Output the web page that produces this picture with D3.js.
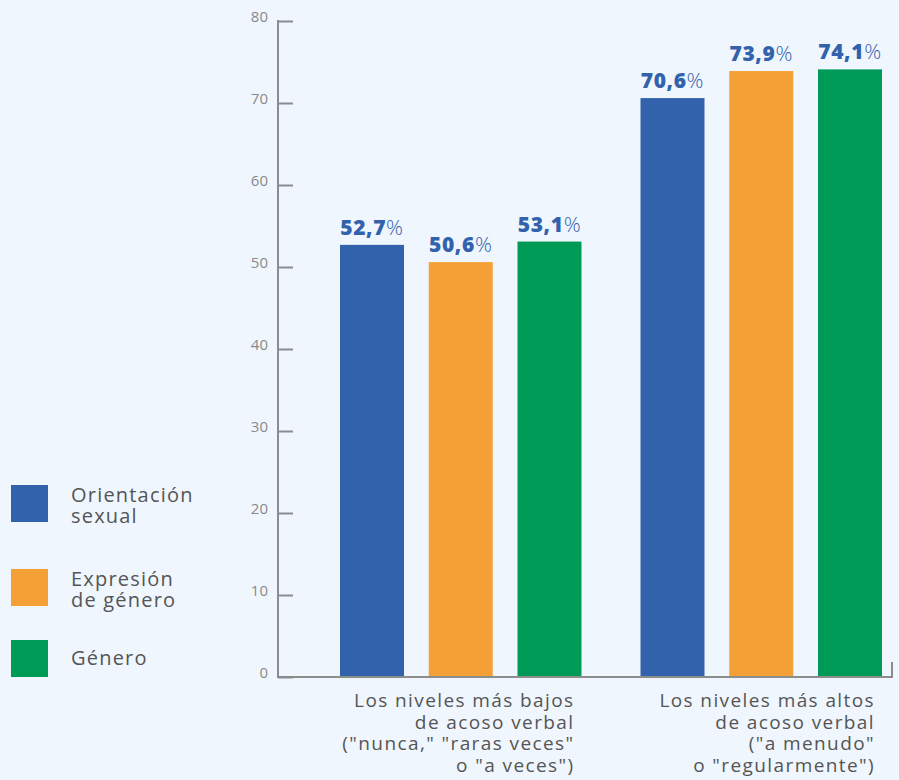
<!DOCTYPE html>
<html>
<head>
<meta charset="utf-8">
<script src="https://cdn.jsdelivr.net/npm/d3@7"></script>
<style>
  html, body { margin: 0; padding: 0; background: #eff6fd; }
  svg { display: block; font-family: "Open Sans", "DejaVu Sans", sans-serif; }
</style>
</head>
<body>
<svg id="chart" width="899" height="780"></svg>
<script>
const groups = ["bajos", "altos"];
const groupLabels = [
  ["Los niveles más bajos", "de acoso verbal", "(\"nunca,\" \"raras veces\"", "o \"a veces\")"],
  ["Los niveles más altos", "de acoso verbal", "(\"a menudo\"", "o \"regularmente\")"]
];
const series = ["Orientación sexual", "Expresión de género", "Género"];
const legendLines = [["Orientación", "sexual"], ["Expresión", "de género"], ["Género"]];
const colors = ["#3362ad", "#f5a036", "#009a57"];
const valuesOrientacion = [52.7, 70.6];
const valuesExpresion = [50.6, 73.9];
const valuesGenero = [53.1, 74.1];
const yTicks = [0, 10, 20, 30, 40, 50, 60, 70, 80];
const valueLabels = [["52,7", "70,6"], ["50,6", "73,9"], ["53,1", "74,1"]];

const allValues = [valuesOrientacion, valuesExpresion, valuesGenero];
const svg = d3.select("#chart");

const y = d3.scaleLinear().domain([0, 80]).range([677, 21]);
const x0 = d3.scaleBand().domain(groups).range([312.5, 913.5]).padding(0);
const x1 = d3.scaleBand().domain(series).range([27.5, 269]).paddingInner(0.279).paddingOuter(0);

// Y axis
const axisColor = "#8c8c8c";
const yAxis = d3.axisRight(y).tickValues(yTicks).tickSize(15).tickFormat("");
const gy = svg.append("g").attr("transform", "translate(278,0)").call(yAxis);
gy.select(".domain").remove();
gy.selectAll(".tick line").attr("stroke", axisColor).attr("stroke-width", 2);
svg.append("line").attr("x1", 278).attr("x2", 278).attr("y1", y(80) - 1).attr("y2", y(0) + 1)
  .attr("stroke", axisColor).attr("stroke-width", 2);
svg.selectAll("text.ytick").data(yTicks).join("text")
  .attr("class", "ytick")
  .attr("x", 268).attr("y", d => y(d) + 1)
  .attr("text-anchor", "end")
  .attr("font-size", 15)
  .attr("fill", "#8a8a8a")
  .text(d => d);

// Bars
const barData = [];
groups.forEach((g, gi) => {
  series.forEach((s, si) => {
    barData.push({ g, s, si, v: allValues[si][gi], label: valueLabels[si][gi] });
  });
});
svg.append("g").selectAll("rect").data(barData).join("rect")
  .attr("x", d => x0(d.g) + x1(d.s))
  .attr("width", x1.bandwidth())
  .attr("y", d => y(d.v))
  .attr("height", d => y(0) - y(d.v))
  .attr("fill", d => colors[d.si]);

// Baseline
svg.append("path")
  .attr("d", `M278,${y(0)}H892V${y(0) - 15}`)
  .attr("fill", "none").attr("stroke", axisColor).attr("stroke-width", 2);

// Value labels
const vl = svg.append("g").selectAll("text").data(barData).join("text")
  .attr("x", d => x0(d.g) + x1(d.s) + x1.bandwidth() / 2)
  .attr("y", d => y(d.v) - 10)
  .attr("text-anchor", "middle")
  .attr("font-size", 21)
  .attr("letter-spacing", 0.6)
  .attr("fill", "#3362ad");
vl.append("tspan").attr("font-weight", 800).text(d => d.label);
vl.append("tspan").attr("font-weight", 300).text("%");

// Category labels
groupLabels.forEach((lines, gi) => {
  lines.forEach((ln, li) => {
    svg.append("text")
      .attr("text-anchor", "end")
      .attr("font-size", 19)
      .attr("letter-spacing", 1.4)
      .attr("fill", "#555")
      .attr("x", x0(groups[gi]) + x1(series[2]) + x1.bandwidth() - 7)
      .attr("y", 707 + li * 21.5)
      .text(ln);
  });
});

// Legend
const legendY = [485, 569, 640];
legendLines.forEach((lines, i) => {
  svg.append("rect").attr("x", 11).attr("y", legendY[i]).attr("width", 37).attr("height", 37)
    .attr("fill", colors[i]);
  const startY = lines.length === 2 ? legendY[i] + 17 : legendY[i] + 25;
  lines.forEach((ln, li) => {
    svg.append("text").attr("font-size", 20).attr("letter-spacing", 1.2).attr("fill", "#555")
      .attr("x", 71).attr("y", startY + li * 21).text(ln);
  });
});
</script>
</body>
</html>
